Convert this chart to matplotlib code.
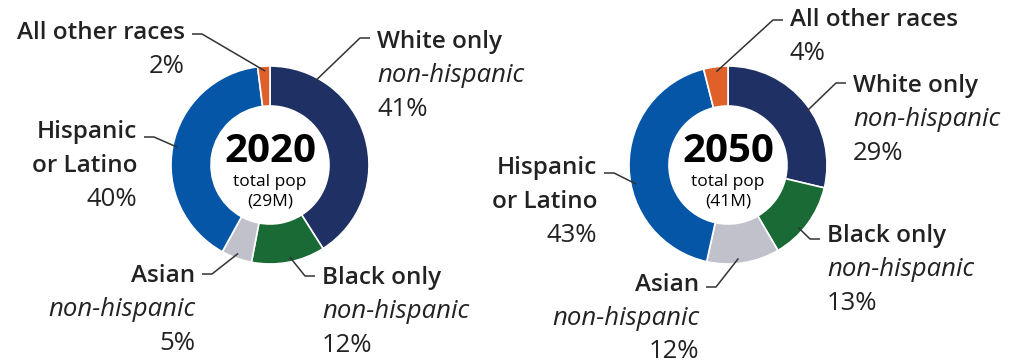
import numpy as np
import matplotlib.pyplot as plt

plt.rcParams['font.family'] = ['Open Sans', 'DejaVu Sans']

W, H = 1024, 364

# data
groups = ["White only", "Black only", "Asian", "Hispanic or Latino", "All other races"]
colors = ["#1f3064", "#1a6a35", "#c1c1cc", "#0656a7", "#e0602a"]
share_2020 = [41, 12, 5, 40, 2]
share_2050 = [29, 13, 12, 43, 4]
years = ["2020", "2050"]
totals = ["(29M)", "(41M)"]

# label lines per group: (text, style)
label_lines = {
    "White only": [("White only", "title"), ("non-hispanic", "ital")],
    "Black only": [("Black only", "title"), ("non-hispanic", "ital")],
    "Asian": [("Asian", "title"), ("non-hispanic", "ital")],
    "Hispanic or Latino": [("Hispanic", "title"), ("or Latino", "title")],
    "All other races": [("All other races", "title")],
}

# layout (image pixel coords, y down)
centers = [(270, 165), (728, 165)]
R, RING = 99, 40
# per group: text x, first line y, align, leader y, anchor fraction inside wedge
layout = [
    {"White only": (377, 42, "left", 38, 0.19),
     "Black only": (322, 278, "left", 276, 0.47),
     "Asian": (195, 276, "right", 274, 0.5),
     "Hispanic or Latino": (137, 132, "right", 137, 0.5),
     "All other races": (185, 33, "right", 34, 0.6)},
    {"White only": (853, 86, "left", 83, 0.54),
     "Black only": (827, 236, "left", 239, 0.61),
     "Asian": (699, 285, "right", 287, 0.56),
     "Hispanic or Latino": (597, 168, "right", 173, 0.43),
     "All other races": (790, 20, "left", 20, 0.5)},
]

LINE = 33.5
TXT = "#222222"

fig = plt.figure(figsize=(W / 100, H / 100), dpi=100)
ax = fig.add_axes([0, 0, 1, 1])

for k, shares in enumerate([share_2020, share_2050]):
    cx, cy = centers[k]
    wedges, _ = ax.pie(shares, colors=colors, startangle=90, counterclock=False,
                       radius=R, center=(cx, H - cy),
                       wedgeprops=dict(width=RING, edgecolor="white", linewidth=1.2))
    ax.text(cx, H - 152, years[k], ha="center", va="center", fontsize=29,
            fontweight="bold", color="black")
    ax.text(cx, H - 182, "total pop", ha="center", va="center", fontsize=12.5, color="black")
    ax.text(cx, H - 201, totals[k], ha="center", va="center", fontsize=12.5, color="black")

    for g, w, val in zip(groups, wedges, shares):
        tx, ty, align, ly, frac = layout[k][g]
        lines = label_lines[g] + [(f"{val}%", "pct")]
        for i, (s, style) in enumerate(lines):
            kw = dict(fontsize=18.5, color=TXT, ha=align, va="center")
            if style == "title":
                kw["fontweight"] = "semibold"
                kw["fontsize"] = 17.5
            elif style == "ital":
                kw["fontstyle"] = "italic"
            ax.text(tx, H - (ty + i * LINE), s, **kw)
        # leader line
        ang = np.deg2rad(w.theta2 - frac * (w.theta2 - w.theta1))
        ra = R - 5
        axp, ayp = cx + ra * np.cos(ang), (H - cy) + ra * np.sin(ang)
        sgn = -1 if align == "left" else 1
        end_x = tx + sgn * 7
        elb_x = end_x + sgn * 10
        ax.plot([axp, elb_x, end_x], [ayp, H - ly, H - ly], color="#333333", lw=1.1,
                solid_capstyle="butt")

ax.set_xlim(0, W)
ax.set_ylim(0, H)
ax.set_aspect("equal")
ax.axis("off")

fig.savefig("out.png", dpi=100)
